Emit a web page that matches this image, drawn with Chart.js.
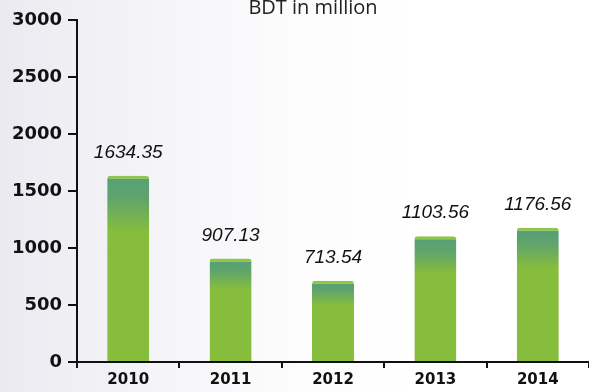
<!DOCTYPE html>
<html>
<head>
<meta charset="utf-8">
<script src="https://cdn.jsdelivr.net/npm/chart.js@4"></script>
<style>
  html, body { margin: 0; padding: 0; }
  body {
    width: 589px; height: 392px; overflow: hidden;
    background: linear-gradient(to right, #eaeaf0 0%, #efeff4 12%, #f6f6f9 30%, #fcfcfd 50%, #ffffff 70%);
  }
  #wrap { width: 589px; height: 392px; }
</style>
</head>
<body>
<div id="wrap"><canvas id="chart"></canvas></div>
<script>
var years = ['2010', '2011', '2012', '2013', '2014'];
var amounts = [1634.35, 907.13, 713.54, 1103.56, 1176.56];
var unitTitle = 'BDT in million';

// vertical fill: teal at the top of each bar, lime green below
function barFill(ctx) {
  var chart = ctx.chart;
  var y = chart.scales.y;
  if (!y || ctx.type !== 'data') return '#86bd3c';
  var top = y.getPixelForValue(ctx.raw);
  var base = y.getPixelForValue(0);
  if (!isFinite(top) || !isFinite(base) || top === base) return '#86bd3c';
  var g = chart.ctx.createLinearGradient(0, top, 0, base);
  g.addColorStop(0, '#559f78');
  g.addColorStop(0.12, '#60a46c');
  g.addColorStop(0.3, '#86bd3c');
  g.addColorStop(1, '#86bd3c');
  return g;
}

var labelPlugin = {
  id: 'valueLabels',
  afterDatasetsDraw: function (chart) {
    var c = chart.ctx;
    c.save();
    c.fillStyle = '#111';
    c.font = 'italic 19px "Liberation Sans", Arial, sans-serif';
    c.textAlign = 'center';
    c.textBaseline = 'middle';
    chart.getDatasetMeta(0).data.forEach(function (bar, i) {
      c.fillText(amounts[i].toFixed(2), bar.x, bar.y - 23);
    });
    c.font = '20px "Open Sans", "Liberation Sans", sans-serif';
    c.fillStyle = '#222';
    c.textBaseline = 'alphabetic';
    c.fillText(unitTitle, 313, 14);
    c.restore();
  }
};

new Chart(document.getElementById('chart'), {
  type: 'bar',
  data: {
    labels: years,
    datasets: [{
      data: amounts,
      backgroundColor: barFill,
      borderColor: '#90c648',
      borderWidth: { top: 3, left: 0, right: 0, bottom: 0 },
      borderRadius: { topLeft: 3, topRight: 3 },
      borderSkipped: 'bottom',
      categoryPercentage: 1,
      barPercentage: 0.41
    }]
  },
  plugins: [labelPlugin],
  options: {
    responsive: true,
    maintainAspectRatio: false,
    animation: false,
    layout: { padding: { top: 20, right: 0, left: 0, bottom: 0 } },
    plugins: { legend: { display: false }, tooltip: { enabled: false } },
    scales: {
      x: {
        offset: true,
        grid: { offset: true, drawOnChartArea: false, drawTicks: true, tickLength: 6, color: '#111', lineWidth: 2 },
        border: { color: '#111', width: 2 },
        ticks: { color: '#111', font: { family: '"DejaVu Sans"', size: 15, weight: 'bold' }, padding: 3 },
        afterFit: function (s) { s.height = 30; }
      },
      y: {
        min: 0, max: 3000,
        grid: { drawOnChartArea: false, drawTicks: true, tickLength: 9, color: '#111', lineWidth: 2 },
        border: { color: '#111', width: 2 },
        ticks: {
          stepSize: 500, color: '#111', padding: 6,
          font: { family: '"DejaVu Sans"', size: 18, weight: 'bold' },
          callback: function (v) { return String(v); }
        },
        afterFit: function (s) { s.width = 77; }
      }
    }
  }
});
</script>
</body>
</html>
